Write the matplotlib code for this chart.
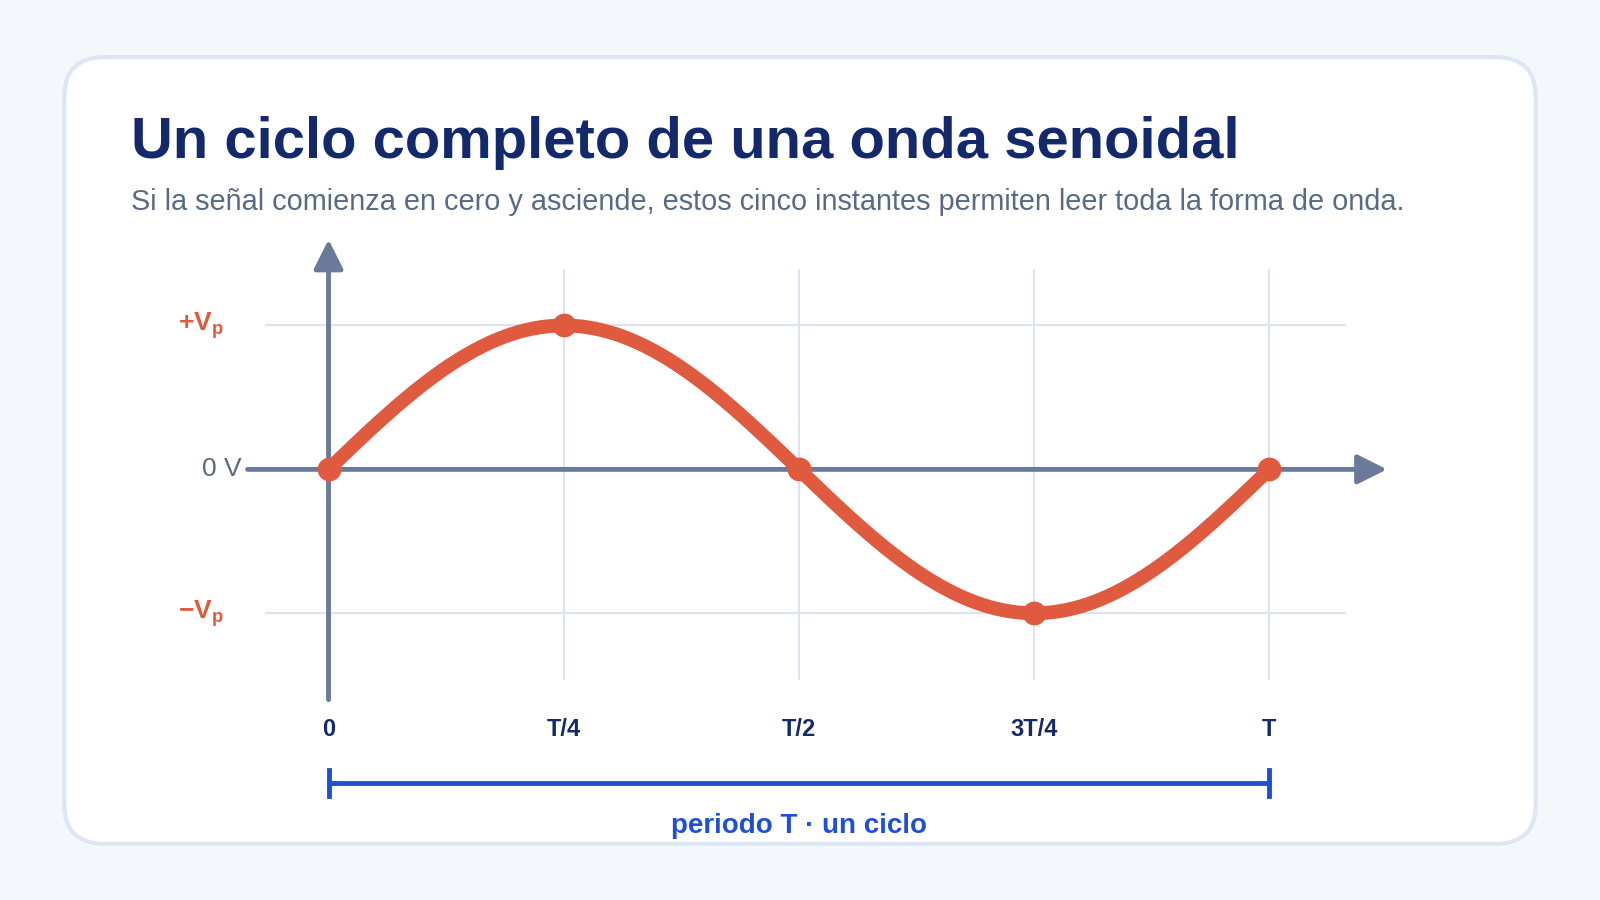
import numpy as np
import matplotlib
matplotlib.use("Agg")
import matplotlib.pyplot as plt
from matplotlib.patches import FancyBboxPatch

plt.rcParams['font.family'] = ['Liberation Sans', 'DejaVu Sans']
plt.rcParams['mathtext.fontset'] = 'custom'
plt.rcParams['mathtext.rm'] = 'Liberation Sans'
plt.rcParams['mathtext.bf'] = 'Liberation Sans:bold'

title = "Un ciclo completo de una onda senoidal"
subtitle = "Si la señal comienza en cero y asciende, estos cinco instantes permiten leer toda la forma de onda."
tick_pos = [0, 0.25, 0.5, 0.75, 1.0]
tick_labels = ["0", "T/4", "T/2", "3T/4", "T"]
point_vals = [0, 1, 0, -1, 0]
y_levels = [1, 0, -1]
y_labels = [r"$\mathbf{+V_p}$", "0 V", r"$\mathbf{−V_p}$"]
period_label = "periodo T · un ciclo"

W, H = 1568, 882
fig = plt.figure(figsize=(16, 9), dpi=100)
fig.patch.set_facecolor('#f4f7fc')
card = FancyBboxPatch((63/W, 1-827/H), (1505-63)/W, (827-56)/H,
                      boxstyle="round,pad=0,rounding_size=0.025", transform=fig.transFigure,
                      facecolor='white', edgecolor='#dce6f5', linewidth=3, mutation_aspect=W/H,
                      zorder=-10)
fig.patches.append(card)
fig.text(128/W, 1-155/H, title, fontsize=41.8, fontweight='bold', color='#13296b', va='baseline')
fig.text(128/W, 1-206/H, subtitle, fontsize=20.8, color='#5a6a85', va='baseline')

ax = fig.add_axes([240/W, 1-700/H, 1130/W, 470/H])
ax.set_xlim(-0.0889, 1.1367)
ax.set_ylim(-1.702, 1.631)
ax.axis('off')
ax.patch.set_alpha(0)

axis_c = '#6b7a99'
grid_c = '#dde3f0'
for yv in [1, -1]:
    ax.plot([-0.067, 1.080], [yv, yv], color=grid_c, lw=1.5, zorder=1)
for xv in tick_pos[1:]:
    ax.plot([xv, xv], [-1.454, 1.383], color=grid_c, lw=1.5, zorder=1)

ax.annotate('', xy=(1.128, 0), xytext=(-0.089, 0),
            arrowprops=dict(arrowstyle='-|>,head_length=1.8,head_width=0.9', color=axis_c, lw=3.5), zorder=2)
ax.annotate('', xy=(0, 1.617), xytext=(0, -1.62),
            arrowprops=dict(arrowstyle='-|>,head_length=1.8,head_width=0.9', color=axis_c, lw=3.5), zorder=2)

t = np.linspace(0, 1, 400)
ax.plot(t, np.sin(2*np.pi*t), color='#e05a3f', lw=10, solid_capstyle='round', zorder=3)
ax.scatter(tick_pos, point_vals, s=260, color='#e05a3f', zorder=4)

for xv, lab in zip(tick_pos, tick_labels):
    ax.text(xv, -1.81, lab, ha='center', va='center', fontsize=17, fontweight='bold', color='#13296b', clip_on=False)
for yv, lab in zip(y_levels, y_labels):
    if yv == 0:
        ax.text(-0.092, yv, lab, ha='right', va='center', fontsize=19, color='#5a6a85', clip_on=False)
    else:
        ax.text(-0.111, yv, lab, ha='right', va='center', fontsize=19, fontweight='bold', color='#e05a3f', clip_on=False)

blue = '#1f4fd6'
yb = -2.18
ax.plot([0, 1], [yb, yb], color=blue, lw=3.5, clip_on=False)
for xv in [0, 1]:
    ax.plot([xv, xv], [yb-0.09, yb+0.09], color=blue, lw=3.5, clip_on=False)
ax.text(0.5, -2.48, period_label, ha='center', va='center', fontsize=20, fontweight='bold', color=blue, clip_on=False)

fig.savefig('out.png', dpi=100, facecolor=fig.get_facecolor())
